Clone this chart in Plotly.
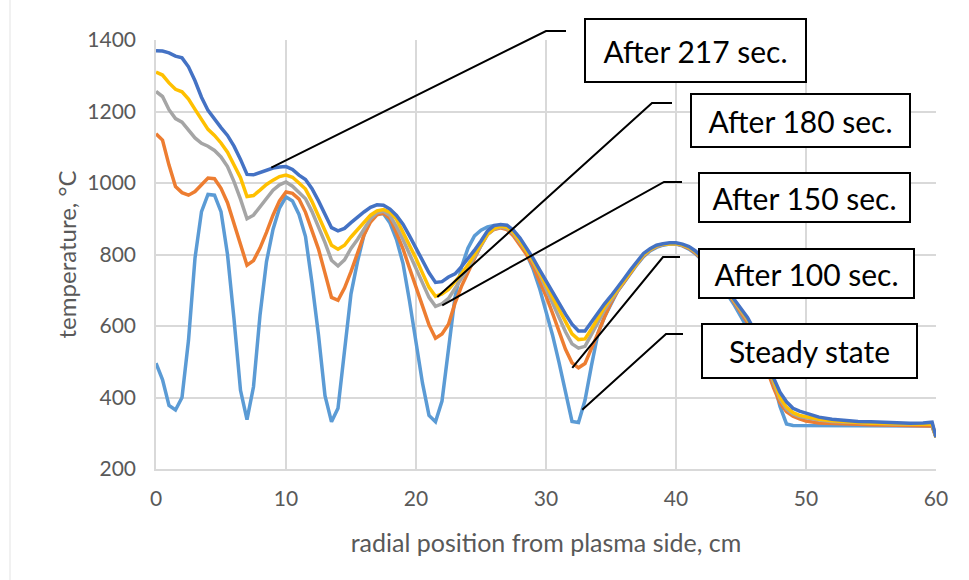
import plotly.graph_objects as go

# radial position from plasma side, cm
position_cm = [
    0, 0.5, 1, 1.5, 2, 2.5, 3, 3.5, 4, 4.5, 5, 5.5, 6, 6.5, 7, 7.5, 8, 8.5, 9, 9.5,
    10, 10.5, 11, 11.5, 12, 12.5, 13, 13.5, 14, 14.5, 15, 15.5, 16, 16.5, 17, 17.5, 18, 18.5, 19, 19.5,
    20, 20.5, 21, 21.5, 22, 22.5, 23, 23.5, 24, 24.5, 25, 25.5, 26, 26.5, 27, 27.5, 28, 28.5, 29, 29.5,
    30, 30.5, 31, 31.5, 32, 32.5, 33, 33.5, 34, 34.5, 35, 35.5, 36, 36.5, 37, 37.5, 38, 38.5, 39, 39.5,
    40, 40.5, 41, 41.5, 42, 42.5, 43, 43.5, 44, 44.5, 45, 45.5, 46, 46.5, 47, 47.5, 48, 48.5, 49, 49.5,
    50, 51, 52, 53, 54, 55, 56, 57, 58, 59, 59.7, 60,
]

# temperature, degC
steady_state = [
    496, 450, 378, 365, 400, 560, 790, 920, 968, 966, 920, 800, 620, 420, 338, 430, 630, 780, 870, 930,
    961, 950, 912, 850, 720, 575, 405, 332, 370, 530, 690, 780, 855, 897, 914, 914, 888, 842, 775, 670,
    555, 440, 350, 332, 390, 530, 680, 765, 818, 852, 868, 877, 881, 881, 878, 862, 840, 802, 760, 706,
    642, 575, 498, 410, 333, 330, 392, 490, 580, 625, 660, 697, 722, 748, 772, 794, 810, 820, 826, 829,
    829, 824, 815, 802, 784, 762, 738, 713, 686, 658, 628, 594, 575, 530, 485, 445, 375, 326, 322, 322,
    321, 321, 320, 320, 320, 320, 320, 320, 320, 320, 320, 289,
]

after_100s = [
    1138, 1120, 1050, 990, 973, 966, 976, 996, 1014, 1012, 985, 945, 888, 829, 770, 783, 818, 862, 910, 950,
    975, 971, 955, 918, 869, 815, 748, 680, 672, 706, 752, 806, 855, 891, 911, 916, 901, 860, 816, 762,
    708, 652, 603, 566, 578, 605, 664, 711, 753, 789, 825, 856, 870, 875, 870, 852, 826, 800, 768, 728,
    684, 636, 584, 535, 497, 483, 495, 535, 580, 625, 665, 697, 724, 750, 774, 796, 812, 822, 828, 830,
    830, 825, 817, 804, 786, 764, 742, 718, 692, 666, 640, 610, 572, 528, 478, 428, 385, 360, 348, 340,
    334, 329, 327, 326, 325, 324, 323, 322, 321, 320, 320, 289,
]

after_150s = [
    1256, 1242, 1205, 1180, 1170, 1148, 1126, 1111, 1103, 1091, 1073, 1046, 1004, 955, 900, 910, 934, 960, 980, 995,
    1003, 991, 972, 956, 920, 879, 833, 784, 768, 785, 817, 842, 872, 900, 917, 921, 909, 878, 842, 800,
    760, 718, 680, 655, 662, 677, 704, 734, 761, 793, 824, 856, 871, 877, 873, 858, 834, 810, 780, 746,
    705, 663, 622, 584, 550, 538, 543, 575, 610, 645, 673, 700, 726, 752, 776, 798, 813, 823, 828, 830,
    830, 826, 819, 807, 789, 767, 745, 721, 695, 670, 645, 617, 582, 540, 492, 442, 395, 368, 354, 347,
    343, 337, 333, 331, 329, 328, 327, 326, 325, 325, 326, 289,
]

after_180s = [
    1310, 1302, 1280, 1262, 1255, 1235, 1206, 1176, 1150, 1133, 1112, 1086, 1052, 1015, 962, 965, 980, 996, 1008, 1018,
    1022, 1016, 1000, 983, 948, 906, 866, 826, 815, 826, 849, 869, 890, 910, 922, 926, 918, 899, 862, 826,
    789, 748, 708, 683, 690, 702, 723, 746, 771, 799, 829, 857, 873, 879, 876, 862, 838, 812, 783, 750,
    716, 680, 644, 610, 578, 562, 564, 592, 625, 653, 678, 703, 729, 754, 778, 800, 814, 824, 829, 831,
    831, 827, 820, 808, 790, 768, 746, 722, 696, 671, 647, 620, 586, 545, 498, 448, 400, 373, 358, 350,
    346, 339, 335, 332, 330, 328, 327, 326, 325, 325, 326, 289,
]

after_217s = [
    1370, 1369, 1364, 1355, 1350, 1325, 1286, 1240, 1203, 1178, 1155, 1133, 1103, 1066, 1024, 1023, 1030, 1037, 1042, 1045,
    1046, 1038, 1022, 1010, 984, 950, 914, 875, 866, 873, 889, 905, 919, 932, 939, 938, 927, 909, 885, 852,
    818, 785, 749, 722, 724, 737, 746, 766, 788, 812, 838, 866, 881, 884, 882, 868, 846, 819, 790, 758,
    726, 694, 663, 633, 605, 586, 586, 612, 638, 662, 684, 707, 732, 757, 780, 803, 816, 826, 830, 833,
    833, 829, 822, 810, 792, 770, 748, 724, 698, 673, 650, 624, 590, 550, 505, 455, 415, 388, 370, 362,
    356, 345, 339, 335, 333, 332, 330, 329, 328, 329, 331, 289,
]

series_names = ["Steady state", "After 100 sec.", "After 150 sec.", "After 180 sec.", "After 217 sec."]
series_values = [steady_state, after_100s, after_150s, after_180s, after_217s]
series_colors = ["#5B9BD5", "#ED7D31", "#A5A5A5", "#FFC000", "#4472C4"]

# where each callout's leader line touches its curve (cm, degC)
callout_targets = {
    "After 217 sec.": (8.87, 1043),
    "After 180 sec.": (21.64, 681),
    "After 150 sec.": (22.02, 658),
    "After 100 sec.": (32.02, 483),
    "Steady state": (32.79, 366),
}

X_RANGE = (0, 60)
Y_RANGE = (200, 1400)

# figure geometry (pixels)
W, H = 969, 580
ML, MR, MT, MB = 156, 33, 40, 111
PW, PH = W - ML - MR, H - MT - MB


def px_to_paper(px, py):
    return (px - ML) / PW, (H - MB - py) / PH


def data_to_paper(x, y):
    return ((x - X_RANGE[0]) / (X_RANGE[1] - X_RANGE[0]),
            (y - Y_RANGE[0]) / (Y_RANGE[1] - Y_RANGE[0]))


# callout boxes: label -> (left, top, right, bottom) in pixels, elbow (start x, end x, y)
callout_boxes = {
    "After 217 sec.": ((584, 18, 807, 83), (566, 546, 31)),
    "After 180 sec.": ((690, 93, 911, 148), (672, 652, 103)),
    "After 150 sec.": ((698, 172, 911, 223), (682, 664, 182)),
    "After 100 sec.": ((698, 248, 915, 299), (680, 663, 257)),
    "Steady state": ((701, 323, 918, 379), (683, 666, 334)),
}

fig = go.Figure()
for name, vals, col in zip(series_names, series_values, series_colors):
    fig.add_trace(go.Scatter(
        x=position_cm, y=vals, mode="lines", name=name,
        line=dict(color=col, width=3.5),
    ))

shapes = []
annotations = []
for label, ((l, t, r, b), (ex0, ex1, ey)) in callout_boxes.items():
    tx, ty = data_to_paper(*callout_targets[label])
    p0 = px_to_paper(ex0, ey)
    p1 = px_to_paper(ex1, ey)
    shapes.append(dict(
        type="path", xref="paper", yref="paper",
        path=f"M {p0[0]} {p0[1]} L {p1[0]} {p1[1]} L {tx} {ty}",
        line=dict(color="black", width=2),
    ))
    cx, cy = px_to_paper((l + r) / 2, (t + b) / 2)
    annotations.append(dict(
        text=label, xref="paper", yref="paper", x=cx, y=cy,
        xanchor="center", yanchor="middle", showarrow=False,
        font=dict(family="Lato", size=30, color="black"),
        bgcolor="white", bordercolor="black", borderwidth=2, borderpad=0,
        width=r - l - 4, height=b - t - 4,
    ))

# faint frame line along the left of the chart area
shapes.append(dict(
    type="line", xref="paper", yref="paper",
    x0=px_to_paper(10, 0)[0], x1=px_to_paper(10, 0)[0],
    y0=px_to_paper(0, 0)[1], y1=px_to_paper(0, H)[1],
    line=dict(color="#E3E3E3", width=1),
))

axis_font = dict(family="Lato", size=21, color="#595959")
fig.update_layout(
    width=W, height=H,
    margin=dict(l=ML, r=MR, t=MT, b=MB),
    paper_bgcolor="white", plot_bgcolor="white",
    showlegend=False,
    shapes=shapes, annotations=annotations,
    xaxis=dict(
        range=list(X_RANGE), dtick=10, tick0=0,
        showgrid=True, gridcolor="#D9D9D9", gridwidth=1.5,
        showline=True, linecolor="#D9D9D9", linewidth=1.5,
        zeroline=False,
        ticks="outside", ticklen=10, tickcolor="rgba(0,0,0,0)",
        tickfont=axis_font,
        title=dict(text="radial position from plasma side, cm",
                   font=dict(family="Lato", size=25, color="#595959"), standoff=26),
    ),
    yaxis=dict(
        range=list(Y_RANGE), dtick=200, tick0=200,
        showgrid=True, gridcolor="#D9D9D9", gridwidth=1.5,
        showline=True, linecolor="#D9D9D9", linewidth=1.5,
        zeroline=False,
        ticks="outside", ticklen=14, tickcolor="rgba(0,0,0,0)",
        tickfont=axis_font,
        title=dict(text="temperature, °C",
                   font=dict(family="Lato", size=24, color="#595959"), standoff=4),
    ),
)

fig.write_html("out.html")
